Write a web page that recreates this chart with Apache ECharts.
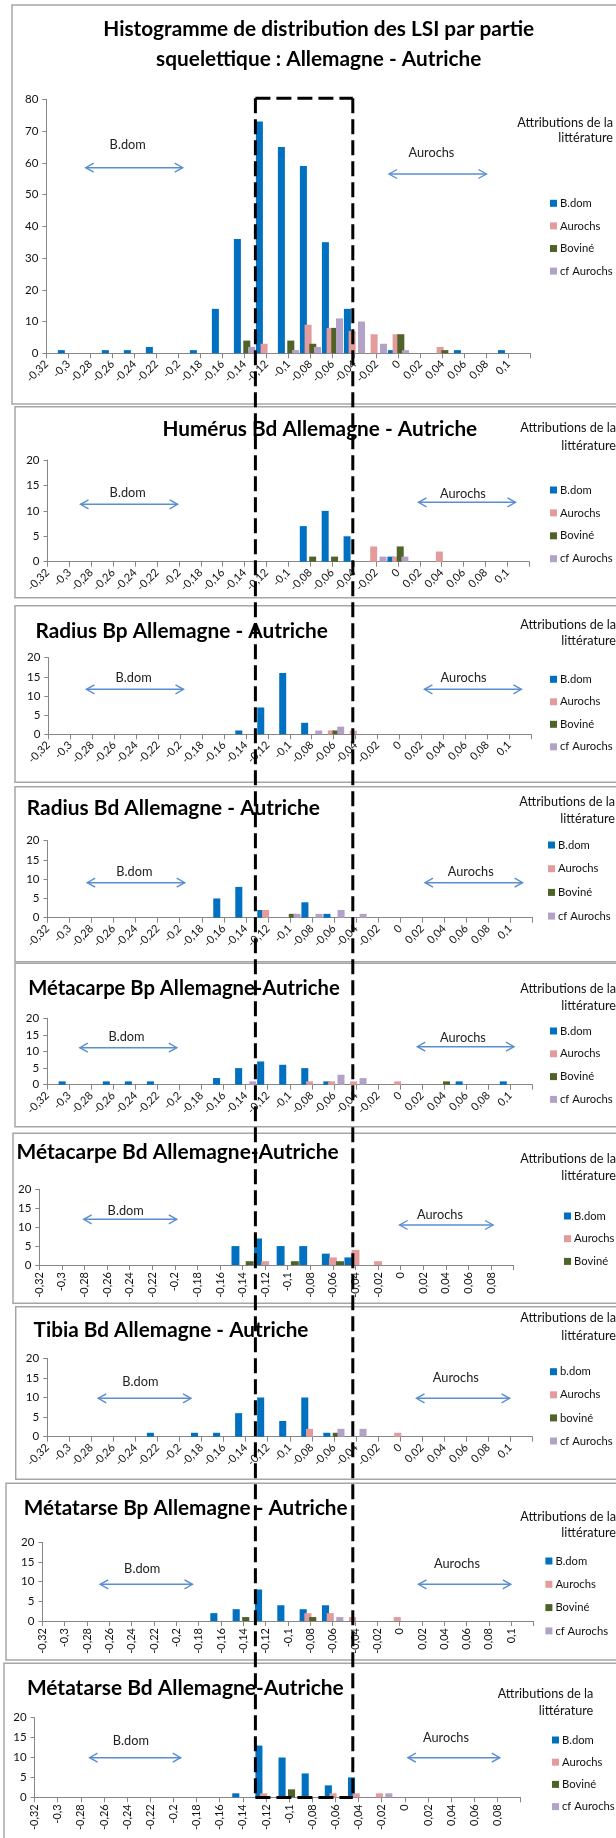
<!DOCTYPE html>
<html>
<head>
<meta charset="utf-8">
<script src="https://cdn.jsdelivr.net/npm/echarts@6/dist/echarts.min.js"></script>
<style>
html,body{margin:0;padding:0;background:#ffffff;}
#c{width:616px;height:1838px;}
</style>
</head>
<body>
<div id="c"></div>
<script>
// ---------- DATA ----------
const labels = ['-0,32','-0,3','-0,28','-0,26','-0,24','-0,22','-0,2','-0,18','-0,16','-0,14','-0,12','-0,1','-0,08','-0,06','-0,04','-0,02','0','0,02','0,04','0,06','0,08','0,1'];
const catsLong = labels.concat(['']);
const catsShort = labels.slice(0, 21).concat(['']);

// Histogramme global
const allBdom = [0,1,0,1,1,2,0,1,14,36,73,65,59,35,14,0,1,0,0,1,0,1,0];
const allAur  = [0,0,0,0,0,0,0,0,0,0,3,0,9,8,7,6,6,0,2,0,0,0,0];
const allBov  = [0,0,0,0,0,0,0,0,0,4,0,4,3,8,0,0,6,0,1,0,0,0,0];
const allCf   = [0,0,0,0,0,0,0,0,0,2,0,1,2,11,10,3,1,0,0,0,0,0,0];
// Humérus Bd
const humBdom = [0,0,0,0,0,0,0,0,0,0,0,0,7,10,5,0,1,0,0,0,0,0,0];
const humAur  = [0,0,0,0,0,0,0,0,0,0,0,0,0,0,0,3,1,0,2,0,0,0,0];
const humBov  = [0,0,0,0,0,0,0,0,0,0,0,0,1,1,0,0,3,0,0,0,0,0,0];
const humCf   = [0,0,0,0,0,0,0,0,0,0,0,0,0,0,0,1,1,0,0,0,0,0,0];
// Radius Bp
const rbpBdom = [0,0,0,0,0,0,0,0,0,1,7,16,3,0,0,0,0,0,0,0,0,0,0];
const rbpAur  = [0,0,0,0,0,0,0,0,0,0,0,0,0,1,1,0,0,0,0,0,0,0,0];
const rbpBov  = [0,0,0,0,0,0,0,0,0,0,0,0,0,1,0,0,0,0,0,0,0,0,0];
const rbpCf   = [0,0,0,0,0,0,0,0,0,0,0,0,1,2,0,0,0,0,0,0,0,0,0];
// Radius Bd
const rbdBdom = [0,0,0,0,0,0,0,0,5,8,2,0,4,1,0,0,0,0,0,0,0,0,0];
const rbdAur  = [0,0,0,0,0,0,0,0,0,0,2,0,0,0,0,0,0,0,0,0,0,0,0];
const rbdBov  = [0,0,0,0,0,0,0,0,0,0,0,1,0,0,0,0,0,0,0,0,0,0,0];
const rbdCf   = [0,0,0,0,0,0,0,0,0,0,0,1,1,2,1,0,0,0,0,0,0,0,0];
// Métacarpe Bp
const mcpBdom = [0,1,0,1,1,1,0,0,2,5,7,6,5,1,0,0,0,0,0,1,0,1,0];
const mcpAur  = [0,0,0,0,0,0,0,0,0,0,0,0,1,1,1,0,1,0,0,0,0,0,0];
const mcpBov  = [0,0,0,0,0,0,0,0,0,0,0,0,0,0,0,0,0,0,1,0,0,0,0];
const mcpCf   = [0,0,0,0,0,0,0,0,0,1,0,0,0,3,2,0,0,0,0,0,0,0,0];
// Métacarpe Bd
const mcdBdom = [0,0,0,0,0,0,0,0,0,5,7,5,5,3,2,0,0,0,0,0,0,0];
const mcdAur  = [0,0,0,0,0,0,0,0,0,0,1,0,0,2,4,1,0,0,0,0,0,0];
const mcdBov  = [0,0,0,0,0,0,0,0,0,1,0,1,0,1,0,0,0,0,0,0,0,0];
// Tibia Bd
const tibBdom = [0,0,0,0,0,1,0,1,1,6,10,4,10,1,0,0,0,0,0,0,0,0,0];
const tibAur  = [0,0,0,0,0,0,0,0,0,0,0,0,2,0,0,0,1,0,0,0,0,0,0];
const tibBov  = [0,0,0,0,0,0,0,0,0,0,0,0,0,1,0,0,0,0,0,0,0,0,0];
const tibCf   = [0,0,0,0,0,0,0,0,0,0,0,0,0,2,2,0,0,0,0,0,0,0,0];
// Métatarse Bp
const mtpBdom = [0,0,0,0,0,0,0,0,2,3,8,4,3,4,0,0,0,0,0,0,0,0,0];
const mtpAur  = [0,0,0,0,0,0,0,0,0,0,0,0,2,2,1,0,1,0,0,0,0,0,0];
const mtpBov  = [0,0,0,0,0,0,0,0,0,1,0,0,1,0,0,0,0,0,0,0,0,0,0];
const mtpCf   = [0,0,0,0,0,0,0,0,0,0,0,0,0,1,0,0,0,0,0,0,0,0,0];
// Métatarse Bd
const mtdBdom = [0,0,0,0,0,0,0,0,0,1,13,10,6,3,5,0,0,0,0,0,0,0];
const mtdAur  = [0,0,0,0,0,0,0,0,0,0,1,0,0,1,1,1,0,0,0,0,0,0];
const mtdBov  = [0,0,0,0,0,0,0,0,0,0,0,2,0,0,0,0,0,0,0,0,0,0];
const mtdCf   = [0,0,0,0,0,0,0,0,0,0,0,0,0,0,0,1,0,0,0,0,0,0];

const mainTitle = ['Histogramme de distribution des LSI par partie', 'squelettique : Allemagne - Autriche'];
const panelTitles = ['', 'Humérus Bd Allemagne - Autriche', 'Radius Bp Allemagne - Autriche', 'Radius Bd Allemagne - Autriche',
  'Métacarpe Bp Allemagne-Autriche', 'Métacarpe Bd Allemagne-Autriche', 'Tibia Bd Allemagne - Autriche',
  'Métatarse Bp Allemagne - Autriche', 'Métatarse Bd Allemagne-Autriche'];

// ---------- STYLE ----------
const FONT = 'Lato';
const COL = {bdom:'#0070C0', aur:'#E39C9B', bov:'#4F6228', cf:'#B3A2C7'};
const AXIS = '#868686';
const ARROW = '#5B8ED0';

const mctx = document.createElement('canvas').getContext('2d');
function fit(text, w, weight) {
  mctx.font = (weight || 'normal') + ' 100px ' + FONT;
  return 100 * w / mctx.measureText(text).width;
}

const panels = [
  {cats:catsLong, max:80, step:10, rot:45, grid:[46.4,99.3,484.1,254], gap:'-33%', cg:'4%',
   series:[['B.dom',allBdom,COL.bdom],['Aurochs',allAur,COL.aur],['Boviné',allBov,COL.bov],['cf Aurochs',allCf,COL.cf]],
   leg:[550,203.3,22.6], attr:[613,122.7,138.3], bt:[127.7,145], ba:[85.7,182.7,167.7], at:[431.4,152.7], aa:[389,486.4,174],
   border:[12,5,620,399]},
  {cats:catsLong, max:20, step:5, rot:45, grid:[47.5,460,481.8,101.7], gap:'-33%', cg:'4%',
   series:[['B.dom',humBdom,COL.bdom],['Aurochs',humAur,COL.aur],['Boviné',humBov,COL.bov],['cf Aurochs',humCf,COL.cf]],
   title:[319.8,429.3,315], leg:[550,490,22.9], attr:[616,428.3,445.7], bt:[127.7,492.7], ba:[80.5,177.6,504.3], at:[462.9,494], aa:[418.5,515.5,502.3],
   border:[15,406.7,620,191]},
  {cats:catsLong, max:20, step:5, rot:45, grid:[48.3,657.7,482.9,76.6], gap:'-33%', cg:'4%',
   series:[['B.dom',rbpBdom,COL.bdom],['Aurochs',rbpAur,COL.aur],['Boviné',rbpBov,COL.bov],['cf Aurochs',rbpCf,COL.cf]],
   title:[181.7,631,292.6], leg:[550,679.3,22.5], attr:[616,625,640.7], bt:[133.6,678.3], ba:[86.4,183.5,689.3], at:[463.6,678.3], aa:[424.4,521.4,689.3],
   border:[15,605.7,620,176.6]},
  {cats:catsLong, max:20, step:5, rot:45, grid:[47.5,840.7,484.9,77], gap:'-33%', cg:'4%',
   series:[['B.dom',rbdBdom,COL.bdom],['Aurochs',rbdAur,COL.aur],['Boviné',rbdBov,COL.bov],['cf Aurochs',rbdCf,COL.cf]],
   title:[173.4,808.3,293.3], leg:[548,845,23.7], attr:[615,802.3,819.3], bt:[134.4,871.7], ba:[87.2,184.7,882.7], at:[470.7,871.7], aa:[425,522.6,882.7],
   border:[15,786.7,620,175]},
  {cats:catsLong, max:20, step:5, rot:45, grid:[47.2,1018.3,485.2,66.4], gap:'-33%', cg:'4%',
   series:[['B.dom',mcpBdom,COL.bdom],['Aurochs',mcpAur,COL.aur],['Boviné',mcpBov,COL.bov],['cf Aurochs',mcpCf,COL.cf]],
   title:[184,988.3,311.6], leg:[550,1031,22.8], attr:[616,989,1005.7], bt:[126.5,1037.3], ba:[79.8,176.8,1047.7], at:[462.9,1038.3], aa:[417.3,514,1046.7],
   border:[15,963.3,620,163.4]},
  {cats:catsShort, max:20, step:5, rot:90, grid:[39.3,1189.3,474.3,75.7], gap:'-10%', cg:'2%',
   series:[['B.dom',mcdBdom,COL.bdom],['Aurochs',mcdAur,COL.aur],['Boviné',mcdBov,COL.bov]],
   title:[177.6,1152.3,322.2], leg:[564,1216,22.7], attr:[616,1159.3,1175.7], bt:[125.7,1211], ba:[83.7,176.8,1219.3], at:[440,1215], aa:[399.6,493.1,1225],
   border:[13,1133.3,620,170]},
  {cats:catsLong, max:20, step:5, rot:45, grid:[47.2,1358.3,485.2,78.4], gap:'-33%', cg:'4%',
   series:[['b.dom',tibBdom,COL.bdom],['Aurochs',tibAur,COL.aur],['boviné',tibBov,COL.bov],['cf Aurochs',tibCf,COL.cf]],
   title:[171,1330.7,275], leg:[550,1371.7,23.1], attr:[616,1318,1335.7], bt:[140.3,1381.7], ba:[98.2,191,1398.3], at:[455.8,1378.3], aa:[416.5,509.6,1398.3],
   border:[15.7,1306.7,620,172.6]},
  {cats:catsLong, max:20, step:5, rot:90, grid:[42.4,1542.3,491.2,78.7], gap:'-33%', cg:'4%',
   series:[['B.dom',mtpBdom,COL.bdom],['Aurochs',mtpAur,COL.aur],['Boviné',mtpBov,COL.bov],['cf Aurochs',mtpCf,COL.cf]],
   title:[185.7,1508.3,324], leg:[545.4,1561,23.3], attr:[616,1517.3,1533.3], bt:[142.2,1569], ba:[100.2,192.5,1584.3], at:[457,1564.3], aa:[418.5,510.8,1584.3],
   border:[6,1483.3,630,176.7]},
  {cats:catsShort, max:20, step:5, rot:90, grid:[34.6,1717.7,486,79.6], gap:'-33%', cg:'8%',
   series:[['B.dom',mtdBdom,COL.bdom],['Aurochs',mtdAur,COL.aur],['Boviné',mtdBov,COL.bov],['cf Aurochs',mtdCf,COL.cf]],
   title:[185.3,1688.3,317], leg:[552,1740,22.2], attr:[593.3,1694,1710.7], bt:[130.8,1740.7], ba:[89.6,180.7,1757.7], at:[446,1738.3], aa:[407.9,499.8,1757.7],
   border:[4,1663.3,630,200]}
];

const legendFs = fit('cf Aurochs', 52.7);
const attrFs = fit('Attributions de la', 95.7);
const annFs = fit('Aurochs', 46);
const LH = 14;

const grids = [], xAxes = [], yAxes = [], series = [], legends = [], graphics = [];

function arrow(x1, x2, y) {
  return [
    {type:'line', z:5, shape:{x1:x1, y1:y, x2:x2, y2:y}, style:{stroke:ARROW, lineWidth:1.6}},
    {type:'polyline', z:5, shape:{points:[[x1+8,y-4.5],[x1,y],[x1+8,y+4.5]]}, style:{stroke:ARROW, lineWidth:1.4, fill:null}},
    {type:'polyline', z:5, shape:{points:[[x2-8,y-4.5],[x2,y],[x2-8,y+4.5]]}, style:{stroke:ARROW, lineWidth:1.4, fill:null}}
  ];
}
function txt(t, x, y, fs, opt) {
  opt = opt || {};
  return {type:'text', z:6, x:x, y:y, style:{text:t, fill:opt.fill || '#000', fontSize:fs, fontFamily:FONT,
    fontWeight:opt.weight || 'normal', align:opt.align || 'center', verticalAlign:'middle',
    textAlign:opt.align || 'center', textVerticalAlign:'middle', lineHeight:opt.lh}};
}

panels.forEach(function (p, i) {
  const g = p.grid;
  grids.push({left:g[0], top:g[1], width:g[2], height:g[3], containLabel:false});
  xAxes.push({type:'category', gridIndex:i, data:p.cats, boundaryGap:false,
    axisLine:{lineStyle:{color:AXIS, width:1}},
    axisTick:{show:true, interval:0, length:5, lineStyle:{color:AXIS}},
    axisLabel:{interval:0, rotate:p.rot, fontSize:11, fontFamily:FONT, color:'#111', margin:p.rot === 45 ? 9 : 7},
    splitLine:{show:false}});
  yAxes.push({type:'value', gridIndex:i, min:0, max:p.max, interval:p.step,
    axisLine:{show:true, lineStyle:{color:AXIS, width:1}},
    axisTick:{show:true, length:4, lineStyle:{color:AXIS}},
    axisLabel:{fontSize:11.5, fontFamily:FONT, color:'#111', margin:8},
    splitLine:{show:false}});
  p.series.forEach(function (s) {
    series.push({type:'bar', name:s[0], xAxisIndex:i, yAxisIndex:i, data:s[1],
      itemStyle:{color:s[2]}, barGap:p.gap, barCategoryGap:p.cg, animation:false});
  });
  legends.push({data:p.series.map(function (s) { return s[0]; }), orient:'vertical', left:p.leg[0], top:p.leg[1] - LH / 2,
    itemWidth:7, itemHeight:7, itemGap:p.leg[2] - LH, padding:0, icon:'rect', selectedMode:false,
    textStyle:{fontSize:legendFs, fontFamily:FONT, color:'#111', lineHeight:LH, padding:[0,0,0,-2]}});
  graphics.push({type:'rect', z:0, shape:{x:p.border[0], y:p.border[1], width:p.border[2], height:p.border[3]},
    style:{stroke:'#A6A6A6', lineWidth:1.5, fill:null}});
  if (p.title) {
    const t = panelTitles[i];
    graphics.push(txt(t, p.title[0], p.title[1], fit(t, p.title[2], 'bold'), {weight:'bold'}));
  }
  graphics.push(txt('Attributions de la', p.attr[0], p.attr[1], attrFs, {align:'right', fill:'#111'}));
  graphics.push(txt('littérature', p.attr[0], p.attr[2], attrFs, {align:'right', fill:'#111'}));
  graphics.push(txt('B.dom', p.bt[0], p.bt[1], annFs, {fill:'#222'}));
  graphics.push(txt('Aurochs', p.at[0], p.at[1], annFs, {fill:'#222'}));
  arrow(p.ba[0], p.ba[1], p.ba[2]).forEach(function (e) { graphics.push(e); });
  arrow(p.aa[0], p.aa[1], p.aa[2]).forEach(function (e) { graphics.push(e); });
});

// main title (two lines)
const mainFs = fit(mainTitle[0], 431, 'bold');
graphics.push(txt(mainTitle[0], 318.7, 29, mainFs, {weight:'bold'}));
graphics.push(txt(mainTitle[1], 318.7, 59, mainFs, {weight:'bold'}));

// dashed box overlay
const dash = {stroke:'#000', lineWidth:3, lineDash:[15, 6]};
const bx1 = 255.4, bx2 = 352.8, by1 = 98.3, by2 = 1797.5;
graphics.push({type:'line', z:100, shape:{x1:bx1, y1:by1, x2:bx2, y2:by1}, style:dash});
graphics.push({type:'line', z:100, shape:{x1:bx1, y1:by1, x2:bx1, y2:by2}, style:dash});
graphics.push({type:'line', z:100, shape:{x1:bx2, y1:by1, x2:bx2, y2:by2}, style:dash});
graphics.push({type:'line', z:100, shape:{x1:bx1, y1:by2, x2:bx2, y2:by2}, style:dash});

const chart = echarts.init(document.getElementById('c'), null, {renderer:'canvas'});
chart.setOption({
  backgroundColor:'#ffffff',
  animation:false,
  textStyle:{fontFamily:FONT},
  grid:grids, xAxis:xAxes, yAxis:yAxes, series:series, legend:legends,
  graphic:{elements:graphics}
});
</script>
</body>
</html>
